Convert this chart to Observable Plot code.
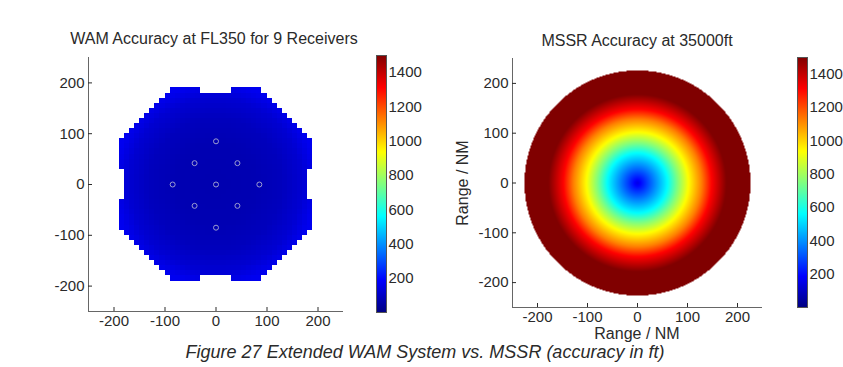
<!DOCTYPE html>
<html><head><meta charset="utf-8">
<script src="https://cdn.jsdelivr.net/npm/d3@7"></script>
<script src="https://cdn.jsdelivr.net/npm/@observablehq/plot@0.6"></script>
<style>
html,body{margin:0;padding:0;background:#fff;}
body{width:843px;height:367px;overflow:hidden;position:relative;font-family:"Liberation Sans",Arial,sans-serif;color:#2a2a2a;}
.box{position:absolute;}
.box svg{display:block;max-width:none !important;}
.txt{position:absolute;white-space:nowrap;transform:translate(-50%,-50%);}
.title{font-size:16px;}
.lab{font-size:16px;}
.cap{font-size:18px;font-style:italic;}
</style></head><body>
<div class="txt title" style="left:214px;top:39px;">WAM Accuracy at FL350 for 9 Receivers</div>
<div class="txt title" style="left:637px;top:41px;">MSSR Accuracy at 35000ft</div>
<div class="txt lab" style="left:463px;top:183px;transform:translate(-50%,-50%) rotate(-90deg);">Range / NM</div>
<div class="txt lab" style="left:637px;top:334px;">Range / NM</div>
<div class="txt cap" style="left:425px;top:352px;">Figure 27 Extended WAM System vs. MSSR (accuracy in ft)</div>
<script>
// ---------- data ----------
const axisTicks = [-200, -100, 0, 100, 200];
const colorTicks = [200, 400, 600, 800, 1000, 1200, 1400];
const colorDomain = [0, 1500];

// WAM coverage: row segments (bottom y of 10 NM row, x from, x to)
const wamRowY0 = [180, 180, 170, 160, 150, 140, 130, 120, 110, 100, 90, 80, 70, 60, 50, 40, 30,
  20, 10, 0, -10, -20, -30, -40, -50, -60, -70, -80, -90,
  -100, -110, -120, -130, -140, -150, -160, -170, -180, -190, -190];
const wamRowX0 = [-90, 30, -100, -110, -120, -130, -140, -150, -160, -170, -180, -190, -190, -190, -190, -190, -190,
  -180, -180, -180, -180, -180, -180, -190, -190, -190, -190, -190, -190,
  -180, -170, -160, -150, -140, -130, -120, -110, -100, -90, 30];
const wamRowX1 = [-30, 90, 100, 110, 120, 130, 140, 150, 160, 170, 180, 190, 190, 190, 190, 190, 190,
  180, 180, 180, 180, 180, 180, 190, 190, 190, 190, 190, 190,
  180, 170, 160, 150, 140, 130, 120, 110, 100, -30, 90];
// WAM accuracy (ft) against distance from centre (NM)
const wamRadius = [0, 80, 130, 170, 200, 280];
const wamAccuracy = [70, 75, 90, 120, 165, 180];
// receivers
const receiverX = [0, -42, 42, -85, 0, 85, -42, 42, 0];
const receiverY = [85, 42, 42, 0, 0, 0, -42, -42, -85];

// MSSR accuracy (ft) against range (NM)
const mssrRadius = [0, 25, 60, 80, 102, 128, 148, 178, 226];
const mssrAccuracy = [150, 320, 562, 750, 937, 1125, 1312, 1500, 1500];
const mssrCoverage = 226;

// ---------- helpers ----------
const jetStops = [0, 187.5, 562.5, 937.5, 1312.5, 1500];
const jetColors = ["#000080", "#0000ff", "#00ffff", "#ffff00", "#ff0000", "#800000"];
const colorOpts = {type: "linear", domain: jetStops, range: jetColors, interpolate: "rgb", clamp: true};
function lookup(xs, ys, v) {
  if (v <= xs[0]) return ys[0];
  for (let i = 1; i < xs.length; i++) {
    if (v <= xs[i]) { const t = (v - xs[i-1]) / (xs[i] - xs[i-1]); return ys[i-1] + t * (ys[i] - ys[i-1]); }
  }
  return ys[ys.length - 1];
}
const fmt = d => String(d);
const style = {fontFamily: '"Liberation Sans", Arial, sans-serif', fontSize: "15px", color: "#2a2a2a", background: "transparent", overflow: "visible"};
function place(el, left, top) {
  const d = document.createElement("div");
  d.className = "box"; d.style.left = left + "px"; d.style.top = top + "px";
  d.appendChild(el); document.body.appendChild(d);
  return d;
}

const wamCells = [];
wamRowY0.forEach((y0, i) => {
  for (let x = wamRowX0[i]; x < wamRowX1[i]; x += 10) {
    wamCells.push({x1: x, x2: x + 10, y1: y0, y2: y0 + 10, acc: lookup(wamRadius, wamAccuracy, Math.hypot(x + 5, y0 + 5))});
  }
});
const receivers = receiverX.map((x, i) => ({x, y: receiverY[i]}));

const wam = Plot.plot({
  width: 370, height: 345, marginLeft: 88, marginRight: 27, marginTop: 57, marginBottom: 34,
  x: {domain: [-250, 250], label: null}, y: {domain: [-250, 250], label: null},
  color: colorOpts, style,
  marks: [
    Plot.rect(wamCells, {x1: "x1", x2: "x2", y1: "y1", y2: "y2", fill: "acc", shapeRendering: "crispEdges"}),
    Plot.dot(receivers, {x: "x", y: "y", r: 2.5, stroke: "#9d9dd0", strokeWidth: 1}),
    Plot.ruleX([-250], {stroke: "#666"}),
    Plot.ruleY([-250], {stroke: "#666"}),
    Plot.axisX({anchor: "bottom", ticks: axisTicks, tickSize: -4, tickPadding: 8, tickFormat: fmt, label: null}),
    Plot.axisY({anchor: "left", ticks: axisTicks, tickSize: -4, tickPadding: 8, tickFormat: fmt, label: null})
  ]
});
place(wam, 0, 0);

const mssr = Plot.plot({
  width: 350, height: 345, marginLeft: 82, marginRight: 18, marginTop: 58, marginBottom: 38,
  x: {domain: [-250, 250], label: null}, y: {domain: [-250, 250], label: null},
  color: colorOpts, style,
  marks: [
    Plot.raster({x1: -250, x2: 250, y1: -250, y2: 250,
      fill: (x, y) => { const r = Math.hypot(x, y); return r > mssrCoverage ? NaN : lookup(mssrRadius, mssrAccuracy, r); }}),
    Plot.ruleX([-250], {stroke: "#666"}),
    Plot.ruleY([-250], {stroke: "#666"}),
    Plot.axisX({anchor: "bottom", ticks: axisTicks, tickSize: -4, tickPadding: 8, tickFormat: fmt, label: null}),
    Plot.axisY({anchor: "left", ticks: axisTicks, tickSize: -4, tickPadding: 8, tickFormat: fmt, label: null})
  ]
});
place(mssr, 430, 0);

function colorbar(width, mt, mb) {
  return Plot.plot({
    width, height: 345, marginLeft: 16, marginRight: width - 16 - 10, marginTop: mt, marginBottom: mb,
    x: {domain: [0, 1], axis: null}, y: {domain: colorDomain, axis: null},
    color: colorOpts, style,
    marks: [
      Plot.raster({x1: 0, x2: 1, y1: colorDomain[0], y2: colorDomain[1], fill: (x, y) => y}),
      Plot.frame({stroke: "#555"}),
      Plot.text(colorTicks, {y: d => d, frameAnchor: "right", dx: 2, textAnchor: "start", text: fmt, fill: "#2a2a2a"})
    ]
  });
}
place(colorbar(63, 55, 33), 360, 0);
place(colorbar(63, 57, 38), 781, 0);
</script>
</body></html>
